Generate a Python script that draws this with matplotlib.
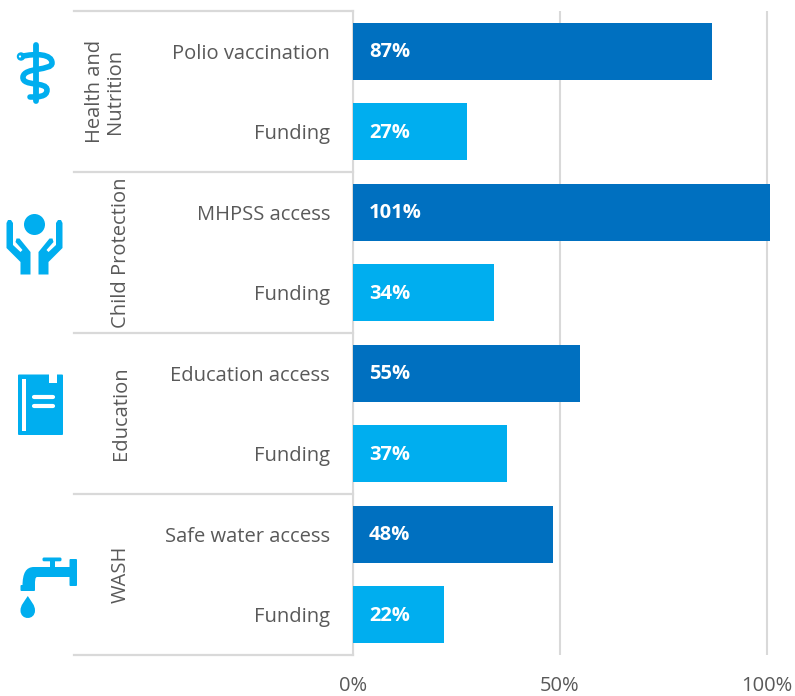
import matplotlib
matplotlib.use("Agg")
import matplotlib.pyplot as plt
from matplotlib.patches import Circle, Polygon, Rectangle, PathPatch, FancyBboxPatch
from matplotlib.path import Path

plt.rcParams['font.family'] = ['Open Sans', 'DejaVu Sans']

# ---- data ----
row_labels = ["Polio vaccination", "Funding", "MHPSS access", "Funding",
              "Education access", "Funding", "Safe water access", "Funding"]
values = [86.7, 27.5, 100.7, 34.0, 54.8, 37.3, 48.3, 22.0]
value_labels = ["87%", "27%", "101%", "34%", "55%", "37%", "48%", "22%"]
groups = ["Health and\nNutrition", "Child Protection", "Education", "WASH"]
group_size = 2
x_ticks = [0, 50, 100]
x_tick_labels = ["0%", "50%", "100%"]

DARK = "#0070C0"
LIGHT = "#00AEEF"
TEXT = "#595959"
LINE = "#D9D9D9"
W, H = 795, 696

fig = plt.figure(figsize=(W / 100, H / 100), dpi=100, facecolor="white")
L, T, B = 353, 11, 655
ax = fig.add_axes([L / W, 1 - B / H, (W - L) / W, (B - T) / H])
px = 100 / 414  # one pixel in data units along x

n = len(values)
pos = [i + 0.5 for i in range(n)]
cols = [DARK if i % 2 == 0 else LIGHT for i in range(n)]
ax.barh(pos, values, height=0.71, color=cols, zorder=3)
ax.set_xlim(0, (W - L) * px)
ax.set_ylim(n, 0)

for p, lab in zip(pos, value_labels):
    ax.text(16 * px, p + 0.01, lab, color="white", fontweight="bold", fontsize=14.5,
            va="center", ha="left", zorder=4)

ax.set_yticks(pos)
ax.set_yticklabels(row_labels, fontsize=14.5, color=TEXT)
ax.tick_params(axis="y", length=0, pad=16.5)
ax.set_xticks(x_ticks)
ax.set_xticklabels(x_tick_labels, fontsize=14.5, color=TEXT)
ax.tick_params(axis="x", length=0, pad=15)
ax.xaxis.grid(True, color=LINE, lw=1.5, zorder=0)
ax.set_axisbelow(True)
for s in ("top", "right", "bottom"):
    ax.spines[s].set_visible(False)
ax.spines["left"].set_color(LINE)
ax.spines["left"].set_linewidth(1.5)

# group separators and labels
for k in range(len(groups) + 1):
    ax.plot([-279 * px, 0], [k * group_size] * 2, color=LINE, lw=1.6, clip_on=False, zorder=2)
for k, g in enumerate(groups):
    xp = -248 * px if "\n" in g else -232 * px
    ax.text(xp, (k + 0.5) * group_size + (-0.0), g, rotation=90, ha="center", va="center",
            fontsize=14.5, color=TEXT, linespacing=1.0, clip_on=False, multialignment="center")

# icons, drawn in a pixel overlay
ov = fig.add_axes([0, 0, 1, 1], facecolor="none")
ov.set_xlim(0, W)
ov.set_ylim(H, 0)
ov.axis("off")

# staff and serpent
ov.plot([35.5, 35.5], [45, 101], color=LIGHT, lw=4.2, solid_capstyle="round")
snake = Path([(21, 56.5), (36, 53), (52, 54), (52, 63), (52, 71), (24, 67), (23, 77),
              (22, 87), (47, 81), (47, 90), (47, 97), (38, 97), (30, 97)],
             [Path.MOVETO] + [Path.CURVE4] * 12)
ov.add_patch(PathPatch(snake, fc="none", ec="white", lw=6.5, capstyle="butt"))
ov.add_patch(PathPatch(snake, fc="none", ec=LIGHT, lw=4, capstyle="round"))
ov.add_patch(Circle((21, 56.5), 4.2, fc=LIGHT, ec="none"))
ov.add_patch(Circle((20, 56.5), 1.1, fc="white", ec="none"))

# protecting hands
ov.add_patch(Circle((34.5, 224.5), 10.5, fc=LIGHT, ec="none"))
hand = [(6.5, 223), (8, 220), (11, 220), (13, 223), (13, 245), (20.5, 252), (22.5, 250),
        (15.5, 242), (16.5, 238.5), (19.5, 238.5), (30.5, 252), (30.5, 274.5),
        (20.5, 274.5), (20.5, 262), (6.5, 248)]
ov.add_patch(Polygon(hand, closed=True, fc=LIGHT, ec="none"))
ov.add_patch(Polygon([(69 - x, y) for x, y in hand], closed=True, fc=LIGHT, ec="none"))

# book
ov.add_patch(FancyBboxPatch((18, 374.5), 45, 60.5, boxstyle="round,pad=0,rounding_size=1",
                            fc=LIGHT, ec="none"))
ov.add_patch(Rectangle((22, 379), 3.7, 52, fc="white", ec="none"))
ov.add_patch(Rectangle((49, 374), 7.5, 9, fc="white", ec="none"))
for yy in (397, 405.5):
    ov.plot([34, 52.5], [yy, yy], color="white", lw=3, solid_capstyle="round")

# tap
ov.add_patch(FancyBboxPatch((69.5, 559), 7.5, 27, boxstyle="round,pad=0,rounding_size=1",
                            fc=LIGHT, ec="none"))
ov.add_patch(Rectangle((49.5, 560), 5.5, 10, fc=LIGHT, ec="none"))
ov.add_patch(FancyBboxPatch((42.5, 557.5), 19, 3.8, boxstyle="round,pad=0,rounding_size=1.5",
                            fc=LIGHT, ec="none"))
spout = Path([(70, 567), (34, 567), (26, 567), (22.5, 573), (22.5, 586),
              (35, 586), (35, 580), (35, 577.5), (37, 577), (70, 577), (70, 567)],
             [Path.MOVETO, Path.LINETO, Path.CURVE4, Path.CURVE4, Path.CURVE4,
              Path.LINETO, Path.CURVE4, Path.CURVE4, Path.CURVE4, Path.LINETO, Path.CLOSEPOLY])
ov.add_patch(PathPatch(spout, fc=LIGHT, ec="none"))
ov.add_patch(FancyBboxPatch((20.5, 585), 14.5, 6, boxstyle="round,pad=0,rounding_size=1",
                            fc=LIGHT, ec="none"))
drop = Path([(27.8, 596), (24, 602), (20.5, 605), (20.5, 610.5), (20.5, 620.5), (35, 620.5),
             (35, 610.5), (35, 605), (31.5, 602), (27.8, 596)],
            [Path.MOVETO] + [Path.CURVE4] * 9)
ov.add_patch(PathPatch(drop, fc=LIGHT, ec="none"))

fig.savefig("out.png", dpi=100, facecolor="white")
